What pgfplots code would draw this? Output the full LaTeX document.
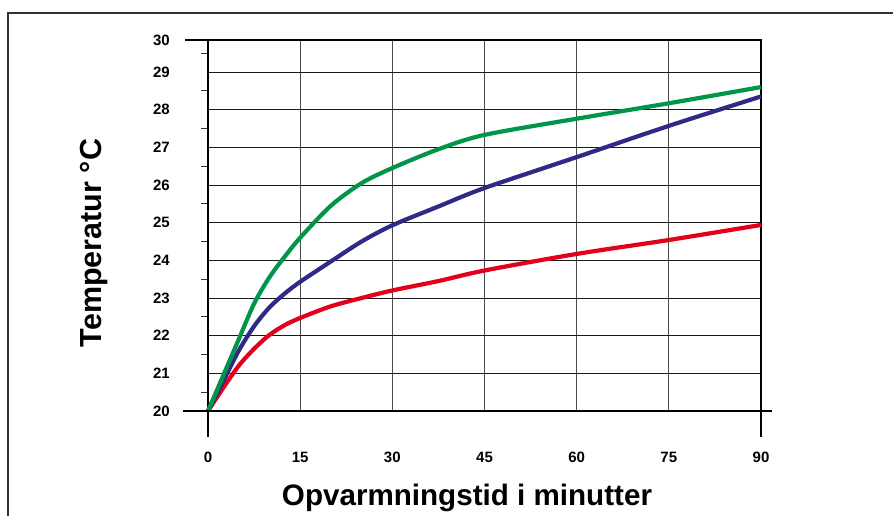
\documentclass[border=0pt]{standalone}
\usepackage{fontspec}
\setmainfont{Liberation Sans}
\usepackage{pgfplots}
\pgfplotsset{compat=1.18}
\definecolor{cgreen}{HTML}{00964A}
\definecolor{cblue}{HTML}{2E2A86}
\definecolor{cred}{HTML}{E3001B}
\begin{document}
\begin{tikzpicture}
\useasboundingbox (0,0) rectangle (893bp,516bp);
% outer frame (cut off at right and bottom)
\draw[line width=1.4bp, black!80] (8bp,-5bp) -- (8bp,503bp) -- (900bp,503bp);
\begin{axis}[
  at={(208bp,105bp)}, anchor=south west,
  scale only axis, width=553bp, height=371bp,
  xmin=0, xmax=90, ymin=20, ymax=29.85,
  clip=false,
  axis line style={line width=1.4bp, black},
  xtick={0,15,...,90},
  ytick={20,21,22,23,24,25,26,27,28,29,29.85},
  yticklabels={20,21,22,23,24,25,26,27,28,29,30},
  minor ytick={20.5,21.5,...,29.5},
  major tick length=0pt,
  minor tick length=7bp,
  tick align=outside,
  ytick pos=left, xtick pos=bottom,
  minor tick style={line width=1bp, black!80},
  grid=major,
  x grid style={line width=1bp, black!70},
  y grid style={line width=1bp, black!90},
  /pgf/number format/assume math mode=true,
  ticklabel style={font=\fontsize{15bp}{17bp}\selectfont\bfseries, inner sep=0pt},
  xticklabel style={anchor=north, yshift=-41bp},
  yticklabel style={anchor=east, xshift=-38bp},
  every axis plot/.append style={line width=4.2bp, smooth, tension=0.5, no markers},
]
\addplot[cred] coordinates {
  (0,20) (2.5,20.62) (5,21.2) (7.5,21.65) (10,22.02) (12.5,22.28) (15,22.47)
  (20,22.78) (25,23.0) (30,23.2) (37.5,23.45) (45,23.73)
  (60,24.17) (75,24.54) (90,24.94)
};
\addplot[cblue] coordinates {
  (0,20) (2.5,20.8) (5,21.6) (7.5,22.25) (10,22.75) (12.5,23.12) (15,23.43)
  (20,23.97) (25,24.5) (30,24.93) (37.5,25.43) (45,25.92)
  (60,26.74) (75,27.57) (90,28.35)
};
\addplot[cgreen] coordinates {
  (0,20) (2.5,20.95) (5,21.9) (7.5,22.85) (10,23.55) (12.5,24.1) (15,24.6)
  (20,25.45) (25,26.05) (30,26.45) (37.5,26.95) (45,27.33)
  (60,27.76) (75,28.17) (90,28.6)
};
\draw[line width=1.4bp, black] (axis cs:-4.1,20) -- (axis cs:91.8,20);
\draw[line width=1.4bp, black] (axis cs:-3.75,29.85) -- (axis cs:0,29.85);
\draw[line width=1.4bp, black] (axis cs:0,20) -- (axis cs:0,19.31);
\draw[line width=1.4bp, black] (axis cs:90,20) -- (axis cs:90,19.31);
\end{axis}
\node[rotate=90, anchor=base, font=\fontsize{30.5bp}{34bp}\selectfont\bfseries] at (101bp,273bp) {Temperatur °C};
\node[anchor=base, font=\fontsize{29.6bp}{34bp}\selectfont\bfseries] at (467bp,11bp) {Opvarmningstid i minutter};
\end{tikzpicture}
\end{document}
